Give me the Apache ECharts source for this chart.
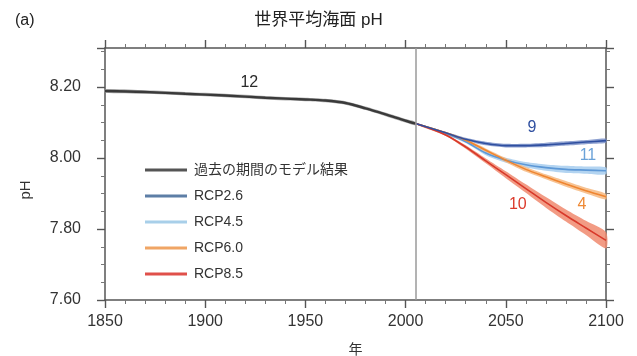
<!DOCTYPE html>
<html><head><meta charset="utf-8">
<script src="https://cdn.jsdelivr.net/npm/echarts@6/dist/echarts.min.js"></script>
<style>html,body{margin:0;padding:0;background:#fff}#c{width:637px;height:356px}</style>
</head><body><div id="c"></div>
<script>
const histYears = [1850,1870,1890,1910,1930,1950,1960,1970,1980,1990,2000,2005];
const histPH    = [8.189,8.186,8.181,8.176,8.170,8.165,8.162,8.155,8.140,8.123,8.105,8.097];
const histSpread= [0.005,0.005,0.005,0.005,0.005,0.005,0.005,0.005,0.005,0.005,0.005,0.005];
const futYears  = [2005,2020,2030,2040,2050,2060,2070,2080,2090,2100];
const rcp26 = [8.097,8.071,8.053,8.041,8.035,8.035,8.037,8.041,8.045,8.049];
const rcp45 = [8.097,8.069,8.046,8.014,7.994,7.981,7.973,7.968,7.966,7.964];
const rcp60 = [8.097,8.071,8.050,8.022,7.994,7.968,7.947,7.927,7.908,7.891];
const rcp85 = [8.097,8.065,8.031,7.992,7.953,7.914,7.875,7.838,7.803,7.768];
const spread26 = [0.002,0.003,0.004,0.005,0.005,0.005,0.006,0.006,0.006,0.006];
const spread45 = [0.002,0.003,0.004,0.006,0.007,0.008,0.009,0.010,0.010,0.010];
const spread60 = [0.002,0.003,0.004,0.005,0.006,0.007,0.007,0.008,0.008,0.008];
const spread85 = [0.002,0.003,0.005,0.007,0.010,0.012,0.015,0.017,0.020,0.023];
const xTicks = [1850,1900,1950,2000,2050,2100];
const yTicks = [7.6,7.8,8.0,8.2];
const names = ['過去の期間のモデル結果','RCP2.6','RCP4.5','RCP6.0','RCP8.5'];
const counts = [['12',1922,8.212,0],['9',2063,8.087,1],['11',2091,8.008,2],['10',2056,7.869,4],['4',2088,7.869,3]];

const lineCol = ['#3a3a3a','#2f4fa0','#5d98d6','#ef8530','#d8392a'];
const bandCol = ['#a0a0a0','#7a90c8','#a6cdee','#f6b880','#f08a6e'];
const labCol  = ['#2a2a2a','#2f4fa0','#6aa2d8','#ef8a35','#dc3a2c'];
const legCol  = ['#555555','#5d7ea6','#a8cfe9','#f0a565','#e0504a'];
const font = '"Liberation Sans","Noto Sans CJK JP",sans-serif';

const groups = [
  [histYears,histPH,histSpread],
  [futYears,rcp26,spread26],
  [futYears,rcp45,spread45],
  [futYears,rcp60,spread60],
  [futYears,rcp85,spread85]
];
const series = [];
groups.forEach((g,k)=>{
  const [xs,ys,sp]=g;
  series.push({type:'custom',name:'band'+k,silent:true,z:1,
    data:xs.map((x,i)=>[x,ys[i]-sp[i],ys[i]+sp[i]]),
    encode:{x:0,y:[1,2]},
    renderItem:(params,api)=>{
      if(params.dataIndex!==0) return null;
      const up = xs.map((x,i)=>api.coord([x,ys[i]+sp[i]]));
      const lo = xs.map((x,i)=>api.coord([x,ys[i]-sp[i]])).reverse();
      return {type:'polygon',shape:{points:up.concat(lo),smooth:0.25},style:{fill:bandCol[k],opacity:0.85}};
    }});
});
groups.forEach((g,k)=>{
  const [xs,ys]=g;
  const s = {type:'line',name:names[k],smooth:0.3,symbol:'none',data:xs.map((x,i)=>[x,ys[i]]),
    lineStyle:{color:lineCol[k],width:k===0?2.4:1.6},itemStyle:{color:legCol[k]},z:3+(k===1?1:0)};
  const mp = counts.filter(c=>c[3]===k).map(c=>({coord:[c[1],c[2]],value:c[0]}));
  if(mp.length){ s.markPoint={symbol:'circle',symbolSize:1,itemStyle:{color:'rgba(0,0,0,0)'},silent:true,
    label:{show:true,formatter:p=>p.value,color:labCol[k],fontSize:16,fontFamily:font,position:'inside'},data:mp}; }
  if(k===0){ s.markLine={symbol:'none',silent:true,label:{show:false},lineStyle:{color:'#9a9a9a',width:1.5,type:'solid'},data:[{xAxis:2005}]}; }
  series.push(s);
});

const tick = {show:true,inside:false,length:8,lineStyle:{color:'#555',width:1.4}};
const mtick = {show:true,length:4,lineStyle:{color:'#777',width:1}};
const axisLine = {show:true,lineStyle:{color:'#555',width:1.5}};
const chart = echarts.init(document.getElementById('c'));
chart.setOption({
  animation:false,
  textStyle:{fontFamily:font},
  title:[{text:'世界平均海面 pH',left:'center',top:7,textStyle:{fontSize:17,fontWeight:'normal',color:'#222',fontFamily:font}},
         {text:'(a)',left:10,top:8,textStyle:{fontSize:16,fontWeight:'normal',color:'#222',fontFamily:font}}],
  legend:{data:names.map((n,k)=>({name:n,itemStyle:{color:legCol[k]},lineStyle:{color:legCol[k],width:3}})),
    orient:'vertical',left:140,top:158,itemWidth:42,itemHeight:3,itemGap:12,icon:'rect',
    textStyle:{fontSize:14,color:'#333',fontFamily:font,padding:[0,0,0,2]}},
  grid:{left:105,right:31,top:48,bottom:56,outerBoundsMode:'none',containLabel:false},
  xAxis:[{type:'value',min:1850,max:2100,interval:50,position:'bottom',name:'年',nameLocation:'middle',nameGap:43,
      nameTextStyle:{fontSize:14,color:'#333'},
      axisLine:axisLine,axisTick:tick,minorTick:Object.assign({splitNumber:5},mtick),
      axisLabel:{fontSize:16,color:'#333',margin:14,formatter:v=>xTicks.includes(v)?String(v):''},splitLine:{show:false}},
    {type:'value',min:1850,max:2100,interval:50,position:'top',
      axisLine:axisLine,axisTick:tick,minorTick:Object.assign({splitNumber:5},mtick),
      axisLabel:{show:false},splitLine:{show:false}}],
  yAxis:[{type:'value',min:7.6,max:8.31,interval:0.2,position:'left',name:'pH',nameLocation:'middle',nameGap:72,
      nameTextStyle:{fontSize:15,color:'#333',padding:[0,32,0,0]},
      axisLine:axisLine,axisTick:tick,minorTick:Object.assign({splitNumber:4},mtick),
      axisLabel:{fontSize:16,color:'#333',margin:24,showMaxLabel:false,formatter:v=>yTicks.some(t=>Math.abs(t-v)<1e-6)?v.toFixed(2):''},splitLine:{show:false}},
    {type:'value',min:7.6,max:8.31,interval:0.2,position:'right',
      axisLine:axisLine,axisTick:tick,minorTick:Object.assign({splitNumber:4},mtick),
      axisLabel:{show:false},splitLine:{show:false}}],
  series:series
});
</script></body></html>
